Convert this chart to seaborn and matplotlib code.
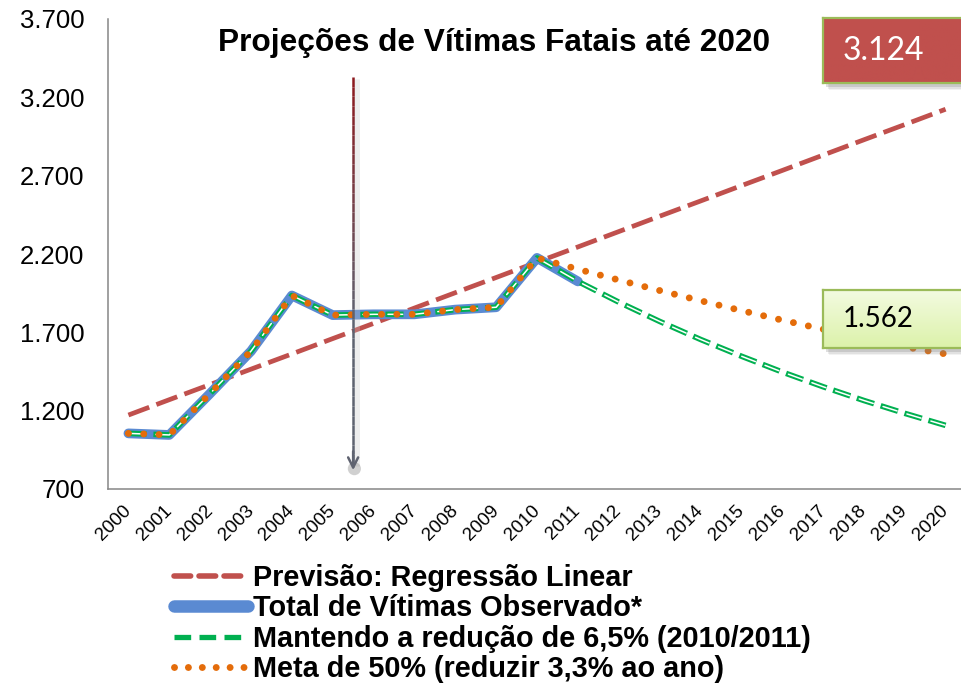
import numpy as np
import pandas as pd
import matplotlib
matplotlib.use("Agg")
import matplotlib.pyplot as plt
from matplotlib.lines import Line2D
from matplotlib.patches import Rectangle
from matplotlib.collections import LineCollection
from matplotlib.colors import LinearSegmentedColormap
import seaborn as sns

# ---------------- data ----------------
years = list(range(2000, 2021))
year_labels = [str(y) for y in years]

regressao = [1172, 1270, 1367, 1465, 1562, 1660, 1757, 1855, 1953, 2050, 2148,
             2245, 2343, 2441, 2538, 2636, 2733, 2831, 2929, 3026, 3124]
observado = [1055, 1045, 1310, 1580, 1935, 1810, 1815, 1815, 1845, 1860, 2175, 2025]
reducao_65 = [1055, 1045, 1310, 1580, 1935, 1810, 1815, 1815, 1845, 1860, 2175, 2025,
              1893, 1770, 1655, 1548, 1447, 1353, 1265, 1183, 1106]
meta_50 = [1055, 1045, 1310, 1580, 1935, 1810, 1815, 1815, 1845, 1860, 2175,
           2103, 2034, 1967, 1902, 1839, 1778, 1720, 1663, 1608, 1562]

series_names = ["Previsão: Regressão Linear",
                "Total de Vítimas Observado*",
                "Mantendo a redução de 6,5% (2010/2011)",
                "Meta de 50% (reduzir 3,3% ao ano)"]
title = "Projeções de Vítimas Fatais até 2020"
y_ticks = [700, 1200, 1700, 2200, 2700, 3200, 3700]
box_regressao = "3.124"
box_meta = "1.562"
arrow_year = 2005.5
arrow_top, arrow_bottom = 3330, 820

# ---------------- style ----------------
sns.set_style("white")
plt.rcParams["font.family"] = ["Liberation Sans", "DejaVu Sans"]
plt.rcParams["lines.scale_dashes"] = False
plt.rcParams["text.color"] = "black"
plt.rcParams["xtick.labelcolor"] = "black"
plt.rcParams["ytick.labelcolor"] = "black"

RED = "#C0504D"
BLUE = "#5A8AD2"
GREEN = "#00B050"
ORANGE = "#E46C0A"
AXIS = "#868686"

W, H = 961, 685
fig = plt.figure(figsize=(W / 100, H / 100), dpi=100)
ax = fig.add_axes([108 / W, 1 - 489 / H, 858 / W, 470 / H])

df_reg = pd.DataFrame({"ano": years, "valor": regressao})
df_obs = pd.DataFrame({"ano": years[:len(observado)], "valor": observado})
df_red = pd.DataFrame({"ano": years, "valor": reducao_65})
df_meta = pd.DataFrame({"ano": years, "valor": meta_50})

red_ls = (0, (16, 5.5))
green_ls = (0, (13, 5))
green_inner = (16.2, (10.6, 7.4))
dot_ls = (0, (0.01, 11))

sns.lineplot(data=df_reg, x="ano", y="valor", ax=ax, color=RED, lw=3.4,
             linestyle=red_ls, dash_capstyle="butt", zorder=2)
sns.lineplot(data=df_obs, x="ano", y="valor", ax=ax, color=BLUE, lw=7,
             solid_joinstyle="round", solid_capstyle="round", zorder=3)
sns.lineplot(data=df_red, x="ano", y="valor", ax=ax, color=GREEN, lw=4,
             linestyle=green_ls, dash_capstyle="butt", zorder=4)
sns.lineplot(data=df_red, x="ano", y="valor", ax=ax, color="white", lw=1.1,
             linestyle=green_inner, dash_capstyle="round", zorder=5)
sns.lineplot(data=df_meta, x="ano", y="valor", ax=ax, color=ORANGE, lw=5,
             linestyle=dot_ls, dash_capstyle="round", zorder=6)

# arrow (gradient dark red -> gray) with soft shadow
n = 40
ys = np.linspace(arrow_top, arrow_bottom + 40, n + 1)
segs = [[(arrow_year, ys[i]), (arrow_year, ys[i + 1])] for i in range(n)]
cols = [(0.55 + (0.37 - 0.55) * t, 0.10 + (0.39 - 0.10) * t, 0.12 + (0.44 - 0.12) * t)
        for t in np.clip(np.linspace(0, 1, n) * 1.6, 0, 1)]
ax.add_collection(LineCollection([[(arrow_year + 0.06, a[1] - 12), (arrow_year + 0.06, b[1] - 12)]
                                  for a, b in segs], colors="#c4c4c4", lw=5, alpha=0.3, zorder=7))
ax.add_collection(LineCollection(segs, colors=cols, lw=1.8, zorder=8))
ax.annotate("", xy=(arrow_year, arrow_bottom), xytext=(arrow_year, arrow_bottom + 120),
            arrowprops=dict(arrowstyle="->", color="#5F6370", lw=1.8,
                            mutation_scale=18, shrinkA=0, shrinkB=0), zorder=8)
ax.scatter([arrow_year + 0.03], [arrow_bottom + 10], s=90, color="#666666", alpha=0.3,
           edgecolors="none", zorder=7)

# axes
ax.set_xlim(1999.5, 2020.5)
ax.set_ylim(700, 3700)
ax.set_yticks(y_ticks)
ax.set_yticklabels([f"{v:,}".replace(",", ".") for v in y_ticks], fontsize=18.5, color="black")
ax.set_xticks(years)
ax.set_xticklabels(year_labels, rotation=45, ha="right", va="center",
                   rotation_mode="anchor", fontsize=13.5, color="black")
ax.set_xticks([y - 0.5 for y in years] + [2020.5], minor=True)
ax.tick_params(axis="x", which="major", length=0, pad=14)
ax.tick_params(axis="x", which="minor", length=4.5, width=1.1, color=AXIS, direction="out")
ax.tick_params(axis="y", length=6, width=1.1, color=AXIS, direction="out", pad=11)
ax.set_xlabel("")
ax.set_ylabel("")
ax.grid(False)
for s in ["top", "right"]:
    ax.spines[s].set_visible(False)
for s in ["left", "bottom"]:
    ax.spines[s].set_color(AXIS)
    ax.spines[s].set_linewidth(1.1)
if ax.get_legend():
    ax.get_legend().remove()

# title
fig.text(493.5 / W, 1 - 43 / H, title, ha="center", va="center",
         fontsize=22.8, fontweight="bold", color="black")

# value boxes
def value_box(y_top_px, y_bot_px, colors, text, tcolor, fsize):
    x0 = 823 / W
    b = 1 - y_bot_px / H
    h = (y_bot_px - y_top_px) / H
    for k, a in [(6, 0.10), (4.5, 0.15), (3, 0.25)]:
        fig.patches.append(Rectangle((x0 + k / W, b - (k + 1) / H), 0.2, h, transform=fig.transFigure,
                                     facecolor="#808080", alpha=a, edgecolor="none", zorder=9))
    bax = fig.add_axes([x0, b, 0.2, h], zorder=10)
    cmap = LinearSegmentedColormap.from_list("g", colors)
    bax.imshow(np.linspace(0, 1, 64).reshape(-1, 1), aspect="auto", cmap=cmap,
               extent=(0, 1, 0, 1), origin="upper")
    bax.set_xlim(0, 1)
    bax.set_ylim(0, 1)
    bax.set_xticks([])
    bax.set_yticks([])
    for sp in bax.spines.values():
        sp.set_color("#9BBB59")
        sp.set_linewidth(1.6)
    bax.text(20 / 961 / 0.2, 0.5, text, transform=bax.transAxes, ha="left", va="center",
             color=tcolor, fontsize=fsize, family=["Lato", "DejaVu Sans"])

value_box(18, 83, [RED, RED], box_regressao, "white", 23)
value_box(290, 348, ["#F3FBE0", "#DCF2AA"], box_meta, "black", 20)

# legend
handles = [
    Line2D([], [], color=RED, lw=4, linestyle=(0, (12, 6)), dash_capstyle="round"),
    Line2D([], [], color=BLUE, lw=9, solid_capstyle="round"),
    Line2D([], [], color=GREEN, lw=3.8, linestyle=(0, (12, 6))),
    Line2D([], [], color=ORANGE, lw=5, linestyle=(0, (0.01, 10)), dash_capstyle="round"),
]
leg = fig.legend(handles, series_names, loc="upper left", bbox_to_anchor=(174 / W, 1 - 564 / H),
                 frameon=False, borderpad=0, borderaxespad=0, handlelength=2.55, handletextpad=0.17,
                 labelspacing=0.08, labelcolor="black",
                 prop=dict(family=["Liberation Sans", "DejaVu Sans"], weight="bold", size=20.8))

fig.savefig("out.png", dpi=100)
